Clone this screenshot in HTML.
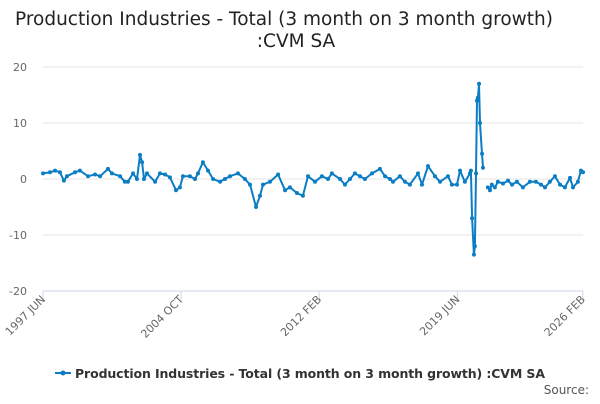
<!DOCTYPE html>
<html><head><meta charset="utf-8"><style>
body{margin:0;width:600px;height:400px;background:#fff;font-family:"DejaVu Sans",sans-serif;overflow:hidden}
svg text{font-family:"DejaVu Sans",sans-serif}
</style></head><body>
<svg id="c" width="600" height="400" xmlns="http://www.w3.org/2000/svg">
<text x="284" y="25" text-anchor="middle" font-size="18.5" fill="#222">Production Industries - Total (3 month on 3 month growth)</text>
<text x="296" y="47" text-anchor="middle" font-size="18.5" fill="#222">:CVM SA</text>
<g id="grid"></g><g id="axes"></g><g id="series"></g>
<g>
<line x1="55" y1="373" x2="71" y2="373" stroke="#0b7dc4" stroke-width="2"/>
<circle cx="63" cy="373" r="2.5" fill="#0b7dc4"/>
<text x="75" y="378" font-size="12.5" font-weight="bold" fill="#333" textLength="470">Production Industries - Total (3 month on 3 month growth) :CVM SA</text>
</g>
<text x="589" y="394" text-anchor="end" font-size="12" fill="#555">Source:</text>
</svg>
<script>
const years=[1997.42,1997.79,1998.06,1998.32,1998.53,1998.69,1999.12,1999.38,1999.81,2000.18,2000.45,2000.87,2001.08,2001.51,2001.77,2001.93,2002.20,2002.41,2002.57,2002.68,2002.78,2002.94,2003.37,2003.63,2003.90,2004.16,2004.48,2004.69,2004.85,2005.22,2005.49,2005.65,2005.91,2006.18,2006.45,2006.82,2007.08,2007.35,2007.77,2008.14,2008.41,2008.73,2008.94,2009.10,2009.47,2009.90,2010.27,2010.53,2010.90,2011.22,2011.49,2011.86,2012.23,2012.55,2012.76,2013.19,2013.45,2013.72,2013.98,2014.25,2014.51,2014.89,2015.31,2015.58,2015.84,2016.00,2016.37,2016.64,2016.90,2017.33,2017.54,2017.86,2018.23,2018.50,2018.92,2019.13,2019.40,2019.56,2019.82,2020.09,2020.14,2020.20,2020.30,2020.35,2020.41,2020.46,2020.51,2020.57,2020.62,2020.73,2020.78,2020.90,2021.04,2021.15,2021.25,2021.41,2021.57,2021.84,2022.11,2022.32,2022.58,2022.90,2023.27,2023.59,2023.86,2024.07,2024.33,2024.60,2024.87,2025.13,2025.40,2025.56,2025.82,2025.98,2026.09];
const values=[1,1.2,1.5,1.2,-0.3,0.5,1.2,1.5,0.5,0.8,0.5,1.8,1,0.5,-0.5,-0.5,1,0,4.3,3,0,1,-0.5,1,0.8,0.3,-2,-1.5,0.5,0.5,0,1,3,1.5,0,-0.5,0,0.5,1,0,-1,-5,-3,-1,-0.5,0.8,-2,-1.5,-2.5,-3,0.5,-0.5,0.5,0,1,0,-1,0,1,0.5,0,1,1.8,0.5,0,-0.5,0.5,-0.5,-1,1,-1,2.3,0.5,-0.5,0.5,-1,-1,1.5,-0.5,1,1.5,-7,-13.5,-12,1,14,14.5,17,10,4.5,2,null,-1.5,-2,-1,-1.5,-0.5,-0.8,-0.3,-1,-0.5,-1.5,-0.5,-0.5,-1,-1.5,-0.5,0.5,-1,-1.5,0.2,-1.5,-0.5,1.5,1.2];
const yTicks=[20,10,0,-10,-20];
const xTickLabels=["1997 JUN","2004 OCT","2012 FEB","2019 JUN","2026 FEB"];
const xTickYears=[1997.42,2004.75,2012.08,2019.42,2026.08];
const NS="http://www.w3.org/2000/svg";
const X=v=>43+(v-1997.42)/(2026.09-1997.42)*540;
const Y=v=>179-v*5.6;
function mk(t,a,p){const e=document.createElementNS(NS,t);for(const k in a)e.setAttribute(k,a[k]);document.getElementById(p).appendChild(e);return e;}
yTicks.forEach(t=>{
 const l=mk('line',{x1:43,x2:583,y1:Y(t),y2:Y(t),stroke:t===-20?'#ccd6eb':'#e6e6e6','stroke-width':1},'grid');
 
 
 const tx=mk('text',{x:27,y:Y(t)+4,'text-anchor':'end','font-size':11,fill:'#666'},'axes');
 tx.textContent=t;
 
 
});
xTickLabels.forEach((s,i)=>{
 const x=X(xTickYears[i]);
 const tk=mk('line',{x1:x,x2:x,y1:291,y2:301,stroke:'#ccd6eb'},'axes');
 
 
 const tx=mk('text',{x:x+3,y:300,'text-anchor':'end','font-size':11,fill:'#666',transform:`rotate(-45 ${x+3} 300)`},'axes');
 tx.textContent=s;
 
 
});
let d='',pen=false;
years.forEach((yr,i)=>{const v=values[i];if(v===null){pen=false;return;}d+=(pen?'L':'M')+X(yr).toFixed(1)+' '+Y(v).toFixed(1);pen=true;});
const p=mk('path',{d:d,fill:'none',stroke:'#0b7dc4','stroke-width':2,'stroke-linejoin':'round'},'series');


years.forEach((yr,i)=>{const v=values[i];if(v===null)return;
 const c=mk('circle',{cx:X(yr),cy:Y(v),r:2,fill:'#0b7dc4'},'series');
 
 
});
</script>
</body></html>
